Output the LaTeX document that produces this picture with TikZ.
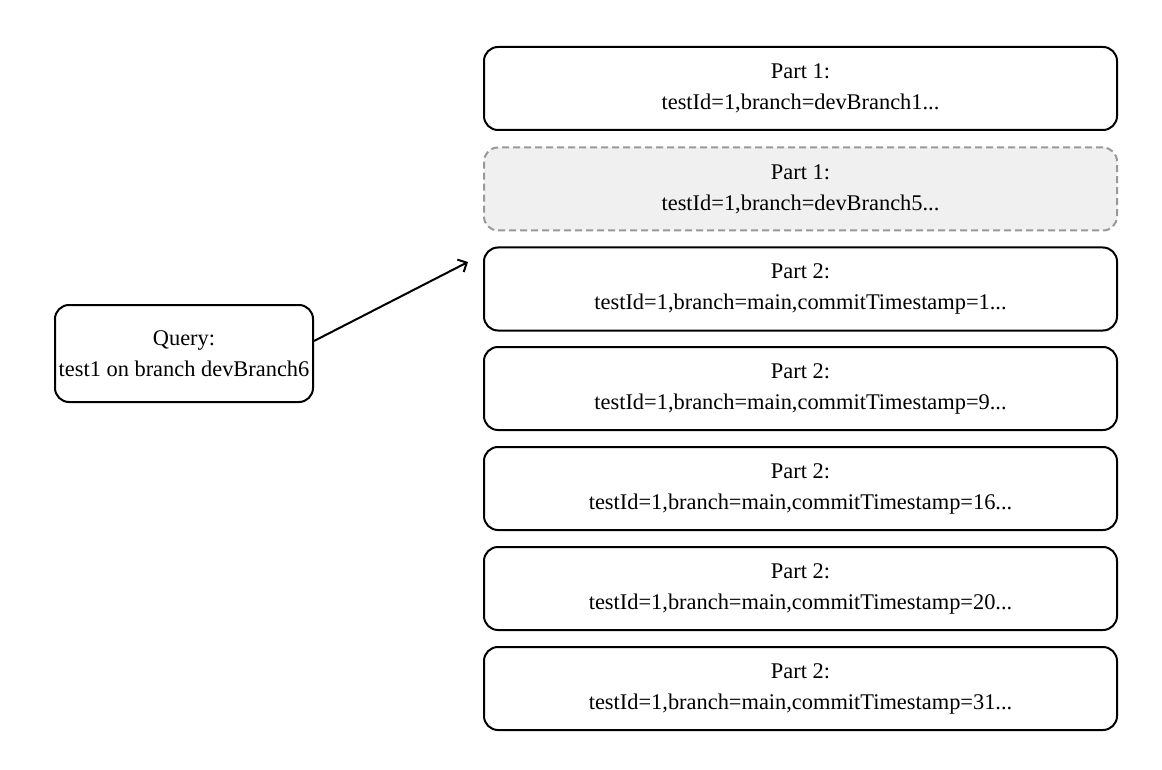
\documentclass[tikz,border=0pt]{standalone}
\usepackage{fontspec}
\setmainfont{Liberation Serif}
\usetikzlibrary{arrows.meta}
\begin{document}
\begin{tikzpicture}[x=1pt,y=-1pt,
  box/.style={draw=black,line width=2pt,rounded corners=14pt,minimum width=633pt,minimum height=83pt,align=center,inner sep=0pt,font=\fontsize{22.4}{27}\selectfont},
  ghost/.style={box,draw={rgb,255:red,153;green,153;blue,153},fill={rgb,255:red,240;green,240;blue,240},dash pattern=on 7pt off 4pt},
  qbox/.style={box,minimum width=258pt,minimum height=97pt},
  link/.style={line width=2pt,-{Straight Barb[length=7pt,width=14pt]}}]
\useasboundingbox (0,0) rectangle (1162,770);
\node[box] (p1) at (800.5,88.5) {Part 1:\\[4pt]testId=1,branch=devBranch1...};
\node[ghost] (p2) at (800.5,189) {Part 1:\\[4pt]testId=1,branch=devBranch5...};
\node[box] (p3) at (800.5,289) {Part 2:\\[4pt]testId=1,branch=main,commitTimestamp=1...};
\node[box] (p4) at (800.5,388.5) {Part 2:\\[4pt]testId=1,branch=main,commitTimestamp=9...};
\node[box] (p5) at (800.5,488.5) {Part 2:\\[4pt]testId=1,branch=main,commitTimestamp=16...};
\node[box] (p6) at (800.5,588.5) {Part 2:\\[4pt]testId=1,branch=main,commitTimestamp=20...};
\node[box] (p7) at (800.5,688.5) {Part 2:\\[4pt]testId=1,branch=main,commitTimestamp=31...};
\node[qbox] (q) at (184,353.5) {Query:\\[4pt]test1 on branch devBranch6};
\coordinate (tip) at (468,262);
\draw[link] ([yshift=12.5pt]q.east) -- (tip);
\end{tikzpicture}
\end{document}
